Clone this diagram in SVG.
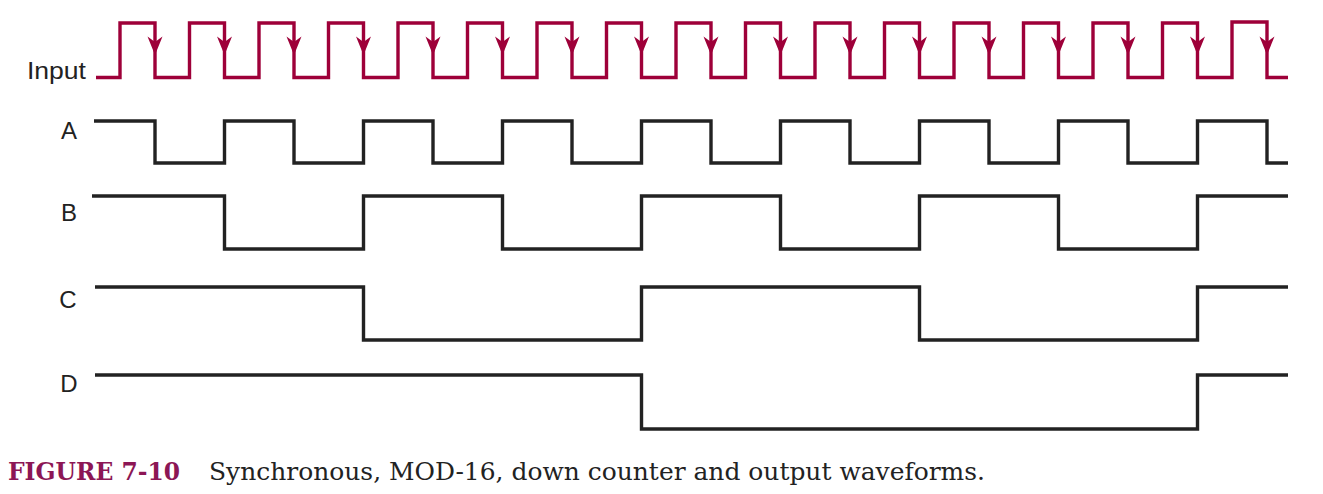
<svg xmlns="http://www.w3.org/2000/svg" xmlns:xlink="http://www.w3.org/1999/xlink" width="1323" height="494" viewBox="0 0 1323 494">
<style>
.lbl{font-family:"Liberation Sans",Arial,sans-serif;font-size:24px;fill:#222;}
.clk{fill:none;stroke:#9e0039;stroke-width:3.4;stroke-linejoin:miter;}
.sig{fill:none;stroke:#222;stroke-width:3.4;stroke-linejoin:miter;}
.arr{fill:#9e0039;}
.fig{font-family:"DejaVu Serif","Liberation Serif",serif;font-weight:bold;font-size:25px;fill:#8c1655;}
.cap{font-family:"DejaVu Serif","Liberation Serif",serif;font-size:25px;fill:#222;}
</style>
<defs>
<path id="ah" class="arr" d="M0,0 L-7.5,-18.5 L0,-13 L7.5,-18.5 Z"/>
</defs>
<rect width="1323" height="494" fill="#fff"/>
<g id="labels">
<text class="lbl" x="86" y="79" text-anchor="end" textLength="59" lengthAdjust="spacingAndGlyphs">Input</text>
<text class="lbl" x="69" y="139" text-anchor="middle">A</text>
<text class="lbl" x="69" y="221" text-anchor="middle">B</text>
<text class="lbl" x="68" y="308" text-anchor="middle">C</text>
<text class="lbl" x="69" y="392" text-anchor="middle">D</text>
</g>
<g id="input">
<path class="clk" d="M96 77.5 H120 V23 H155 V77.5 H189.5 V23 H224.5 V77.5 H259 V23 H294 V77.5 H328.5 V23 H363.5 V77.5 H398 V23 H433 V77.5 H467.5 V23 H502.5 V77.5 H537 V23 H572 V77.5 H606.5 V23 H641.5 V77.5 H676 V23 H711 V77.5 H745.5 V23 H780.5 V77.5 H815 V23 H850 V77.5 H884.5 V23 H919.5 V77.5 H954 V23 H989 V77.5 H1023.5 V23 H1058.5 V77.5 H1093 V23 H1128 V77.5 H1162.5 V23 H1197.5 V77.5 H1232 V22 H1267 V77.5 H1288"/>
</g>
<g id="connectors">
<use xlink:href="#ah" x="155" y="55"/>
<use xlink:href="#ah" x="224.5" y="55"/>
<use xlink:href="#ah" x="294" y="55"/>
<use xlink:href="#ah" x="363.5" y="55"/>
<use xlink:href="#ah" x="433" y="55"/>
<use xlink:href="#ah" x="502.5" y="55"/>
<use xlink:href="#ah" x="572" y="55"/>
<use xlink:href="#ah" x="641.5" y="55"/>
<use xlink:href="#ah" x="711" y="55"/>
<use xlink:href="#ah" x="780.5" y="55"/>
<use xlink:href="#ah" x="850" y="55"/>
<use xlink:href="#ah" x="919.5" y="55"/>
<use xlink:href="#ah" x="989" y="55"/>
<use xlink:href="#ah" x="1058.5" y="55"/>
<use xlink:href="#ah" x="1128" y="55"/>
<use xlink:href="#ah" x="1197.5" y="55"/>
<use xlink:href="#ah" x="1267" y="55"/>
</g>
<g id="wave-A">
<path class="sig" d="M94 121 H155 V163 H224.5 V121 H294 V163 H363.5 V121 H433 V163 H502.5 V121 H572 V163 H641.5 V121 H711 V163 H780.5 V121 H850 V163 H919.5 V121 H989 V163 H1058.5 V121 H1128 V163 H1197.5 V121 H1267 V163 H1288"/>
</g>
<g id="wave-B">
<path class="sig" d="M92 196 H224.5 V249 H363.5 V196 H502.5 V249 H641.5 V196 H780.5 V249 H919.5 V196 H1058.5 V249 H1197.5 V196 H1288"/>
</g>
<g id="wave-C">
<path class="sig" d="M95 287 H363.5 V340 H641.5 V287 H919.5 V340 H1197.5 V287 H1288"/>
</g>
<g id="wave-D">
<path class="sig" d="M95 375 H641.5 V429 H1197.5 V375 H1288"/>
</g>
<g id="caption">
<text class="fig" x="8" y="480" textLength="172" lengthAdjust="spacingAndGlyphs">FIGURE 7-10</text>
<text class="cap" x="209" y="480" textLength="776" lengthAdjust="spacingAndGlyphs">Synchronous, MOD-16, down counter and output waveforms.</text>
</g>
</svg>
